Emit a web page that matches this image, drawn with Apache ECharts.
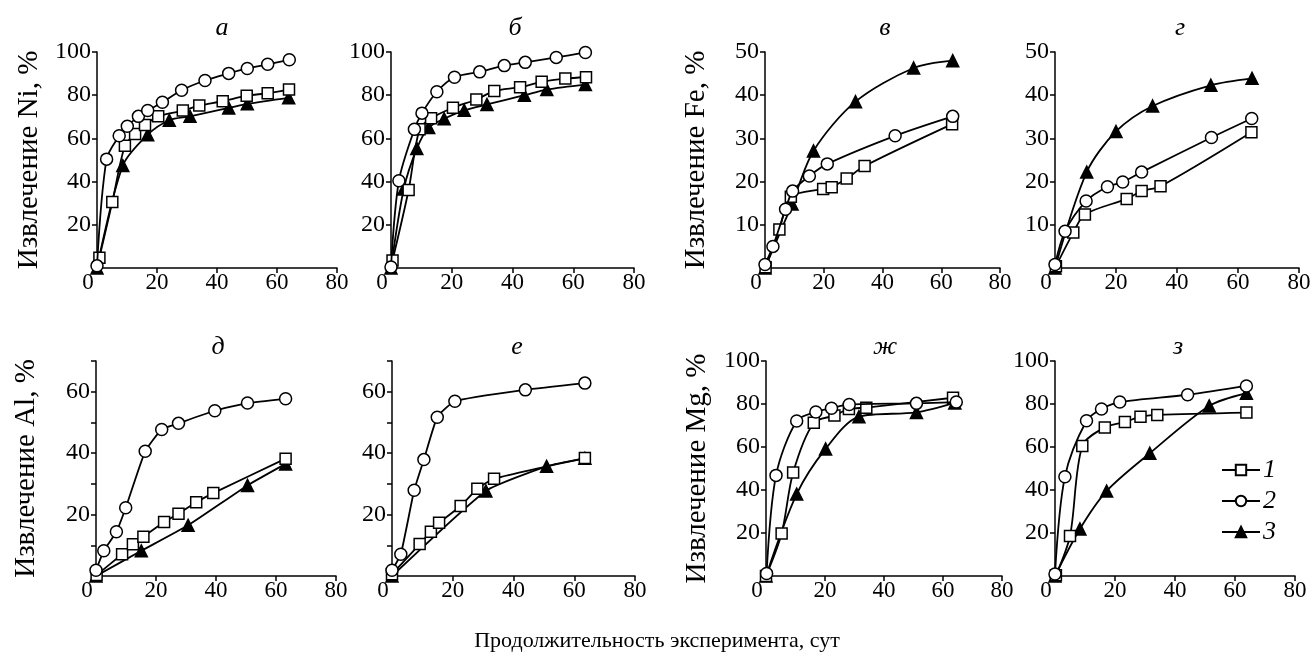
<!DOCTYPE html>
<html><head><meta charset="utf-8">
<script src="https://cdn.jsdelivr.net/npm/echarts@6/dist/echarts.min.js"></script>
<style>html,body{margin:0;padding:0;background:#fff}#c{width:1314px;height:661px}</style>
</head><body><div id="c"></div>
<script>
// ---- data: [day, extraction %] ; series 1 = squares, 2 = circles, 3 = triangles
const panelTitles = ['а','б','в','г','д','е','ж','з'];
const yNames = ['Извлечение Ni, %','','Извлечение Fe, %','','Извлечение Al, %','','Извлечение Mg, %',''];
const xTicks = [0,20,40,60,80];
const legendNames = ['1','2','3'];
const xTitle = 'Продолжительность эксперимента, сут';

const a1 = [[0.8,4.8],[5.1,30.5],[9.3,56.6],[12.7,62],[16,66.2],[20.4,70.2],[28.6,72.9],[34.1,75.2],[41.9,77.2],[49.9,79.8],[56.9,80.9],[64,82.6]];
const a2 = [[0,1],[3.2,50.4],[7.4,61.2],[10.1,65.6],[13.8,70.2],[16.9,72.9],[21.8,76.7],[28.2,82.3],[36,86.8],[43.9,90.1],[50.1,92.4],[56.9,94.3],[64.1,96.4]];
const a3 = [[0,0],[8.6,47.4],[16.9,61.7],[24.1,68.4],[31,70.2],[43.9,74.1],[50.1,76],[63.9,78.8]];

const b1 = [[0.5,3.5],[5.8,36.1],[9.4,64.2],[13.2,69.3],[20.4,74.2],[28.1,78],[34,81.9],[42.5,83.7],[49.6,86.2],[57.4,87.7],[64.2,88.3]];
const b2 = [[0,0.5],[2.6,40.4],[7.7,64.2],[10.2,71.7],[15.1,81.6],[20.9,88.3],[29.2,90.8],[37.3,93.7],[44.2,95.2],[54.4,97.5],[64,99.8]];
const b3 = [[0,0],[4.2,36.6],[8.5,55.3],[12.4,65],[17.5,69.1],[24.1,73],[31.6,75.7],[43.9,80],[51.3,82.6],[64,84.9]];

const v1 = [[0.2,0.2],[4.9,8.9],[8.8,16.5],[19.8,18.3],[22.7,18.7],[27.8,20.7],[33.9,23.6],[63.7,33.3]];
const v2 = [[0,0.8],[2.7,5],[7,13.6],[9.4,17.8],[15.1,21.3],[21.2,24.1],[44.3,30.6],[63.9,35.1]];
const v3 = [[0,0],[9.2,14.8],[16.5,27.1],[30.8,38.5],[50.6,46.3],[63.9,48]];

const g1 = [[0.3,0.4],[6,8.2],[9.8,12.4],[23.5,16],[28.4,17.8],[34.6,18.9],[64.4,31.4]];
const g2 = [[0,0.8],[3.3,8.5],[10.2,15.5],[17.2,18.8],[22.2,19.9],[28.4,22.2],[51.3,30.2],[64.5,34.6]];
const g3 = [[0,0],[10.4,22.2],[20,31.6],[32,37.5],[51.1,42.3],[64.6,43.9]];

const d1 = [[0.2,0.3],[8.7,7.1],[12.3,10.3],[15.8,12.8],[22.7,17.6],[27.5,20.3],[33.4,24],[39.1,27],[63.2,38.2]];
const d2 = [[0,1.9],[2.6,8.2],[6.8,14.4],[9.9,22.2],[16.4,40.6],[21.9,47.7],[27.5,49.7],[39.6,53.8],[50.5,56.3],[63.2,57.7]];
const d3 = [[0,0],[15.1,8.2],[30.7,16.5],[50.5,29.5],[63.2,36.5]];

const e1 = [[0,0.6],[9.1,10.4],[12.8,14.4],[15.5,17.3],[22.6,22.8],[28.1,28.4],[33.6,31.7],[63.5,38.4]];
const e2 = [[0,1.9],[2.9,7.1],[7.3,27.9],[10.5,37.9],[14.9,51.7],[20.7,56.9],[43.9,60.6],[63.5,62.8]];
const e3 = [[0,0],[30.9,27.7],[50.9,35.7],[63.5,38.3]];

const zh1 = [[0,0],[5.3,19.8],[9.2,48.1],[16.2,71.3],[23.2,74.6],[28.1,77.7],[34,78.3],[63.4,82.9]];
const zh2 = [[0.2,1.2],[3.4,46.8],[10.4,72.1],[16.9,76.3],[22.2,78],[28.2,79.8],[51,80.3],[64.5,80.9]];
const zh3 = [[0,0],[10.4,38.1],[20.2,59.1],[31.5,74.1],[51,76.1],[64,80.5]];

const z1 = [[0.3,0.3],[5,18.6],[9.1,60.5],[16.6,69.1],[23.3,71.6],[28.5,74.1],[34.1,74.9],[63.8,76]];
const z2 = [[0,0.9],[3.3,46.2],[10.5,72.2],[15.5,77.7],[21.6,80.9],[44.2,84.3],[63.8,88.4]];
const z3 = [[0,0],[8.3,21.9],[17.2,39.5],[31.6,57.1],[51.4,79.1],[63.8,85]];

const seriesData = [[a1,a2,a3],[b1,b2,b3],[v1,v2,v3],[g1,g2,g3],[d1,d2,d3],[e1,e2,e3],[zh1,zh2,zh3],[z1,z2,z3]];
const yMax = [100,100,50,50,70,70,100,100];
const yInterval = [20,20,10,10,10,10,20,20];
const yShown = [[20,40,60,80,100],[20,40,60,80,100],[10,20,30,40,50],[10,20,30,40,50],[20,40,60],[20,40,60],[20,40,60,80,100],[20,40,60,80,100]];

// ---- layout
const grids = [
  {left:97, top:52, width:240, height:216},
  {left:391, top:52, width:243, height:216},
  {left:765, top:52, width:235, height:216},
  {left:1055, top:52, width:244, height:216},
  {left:96, top:361, width:240, height:215},
  {left:392, top:361, width:243, height:215},
  {left:766, top:361, width:236, height:215},
  {left:1055, top:361, width:240, height:215}
];
const nameGaps = [53,53,54,54,55,55,54,54];
const titlePos = [[217,10],[510,10],[880,10],[1175,10],[213,329],[512,329],[880,329],[1173,329]];
const FONT = '"Liberation Serif", "DejaVu Serif", serif';
const symbols = ['rect','circle','triangle'];
const symSizes = [11,12,12];
const zs = [3,4,2];

const chart = echarts.init(document.getElementById('c'), null, {renderer:'canvas'});
const xAxes = [], yAxes = [], series = [], titles = [];
grids.forEach((g,i)=>{
  xAxes.push({
    gridIndex:i, type:'value', min:0, max:80, interval:20,
    axisLine:{lineStyle:{color:'#000', width:1.5}},
    axisTick:{show:true, inside:false, length:5, lineStyle:{color:'#000', width:1.5}},
    splitLine:{show:false},
    axisLabel:{color:'#000', fontFamily:FONT, fontSize:23, margin:3,
      formatter: v => v===0 ? '{z|0}' : String(v),
      rich:{z:{fontFamily:FONT, fontSize:23, color:'#000', padding:[0,18,0,0]}}}
  });
  const shown = yShown[i];
  yAxes.push({
    gridIndex:i, type:'value', min:0, max:yMax[i], interval:yInterval[i],
    name: yNames[i], nameLocation:'middle', nameRotate:90, nameGap:nameGaps[i],
    nameTextStyle:{color:'#000', fontFamily:FONT, fontSize:29},
    axisLine:{show:true, lineStyle:{color:'#000', width:1.5}},
    axisTick:{show:true, inside:false, length:5, lineStyle:{color:'#000', width:1.5}},
    splitLine:{show:false},
    axisLabel:{color:'#000', fontFamily:FONT, fontSize:24, margin:6,
      formatter: v => shown.indexOf(v)>=0 ? String(v) : ''}
  });
  titles.push({text:panelTitles[i], left:titlePos[i][0], top:titlePos[i][1], textAlign:'center',
    textStyle:{fontFamily:FONT, fontStyle:'italic', fontWeight:'normal', fontSize:26, color:'#000'}});
  const smooth = (i===4||i===5) ? 0.15 : 0.3;
  seriesData[i].forEach((d,k)=>{
    series.push({
      type:'line', name:legendNames[k], xAxisIndex:i, yAxisIndex:i, data:d,
      smooth:smooth, symbol:symbols[k], symbolSize:symSizes[k], showAllSymbol:true,
      z: zs[k],
      lineStyle:{color:'#000', width:1.8},
      itemStyle:{color: k===2 ? '#000' : '#fff', borderColor:'#000', borderWidth:1.5},
      animation:false
    });
  });
});

chart.setOption({
  backgroundColor:'#fff',
  animation:false,
  title: titles,
  grid: grids,
  xAxis: xAxes,
  yAxis: yAxes,
  series: series,
  legend:{
    data: legendNames, orient:'vertical', left:1216, top:452,
    itemWidth:38, itemHeight:13, itemGap:5,
    selectedMode:false,
    textStyle:{fontFamily:FONT, fontStyle:'italic', fontSize:26, color:'#000', padding:[0,0,0,-2]}
  },
  graphic:[{type:'text', left:'center', top:630,
    style:{text:xTitle, fontFamily:FONT, fontSize:22, fill:'#000'}}]
});
</script></body></html>
